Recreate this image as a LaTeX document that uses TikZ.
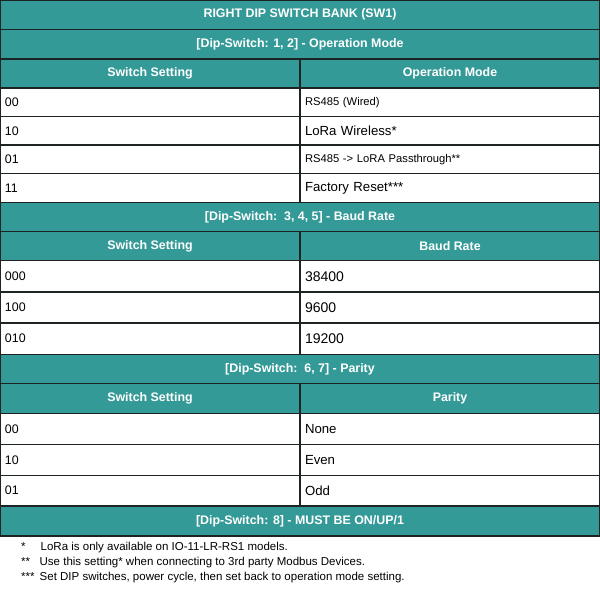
\documentclass[tikz,border=0pt]{standalone}
\usepackage{fontspec}
\setmainfont{Liberation Sans}
\usetikzlibrary{positioning}
\definecolor{bandteal}{RGB}{52,154,152}
\definecolor{gridline}{RGB}{30,36,36}
\def\BandColor{bandteal}
\def\GridColor{gridline}
\newcommand\HeadFont{\bfseries\fontsize{12.4}{14}\selectfont}
\newcommand\SmallFont{\fontsize{11.2}{13}\selectfont}
\newcommand\DigitFont{\fontsize{12.4}{14}\selectfont}
\newcommand\BigFont{\fontsize{13.2}{15}\selectfont}
\newcommand\BigDigitFont{\fontsize{14}{16}\selectfont}

\begin{document}
\begin{tikzpicture}[
    x=1pt, y=1pt,
    node distance = 0pt,
     band/.style = {draw=\GridColor, fill=\BandColor, text=white, font=\HeadFont,
                    line width=1.3pt, inner sep=0pt, outer sep=0pt,
                    minimum width=600pt, minimum height=#1},
     band/.default = 29.4pt,
     head/.style = {band=#1, minimum width=300pt},
     head/.default = 29pt,
     cell/.style = {draw=\GridColor, fill=white, font=\DigitFont,
                    line width=1.3pt, inner xsep=5pt, inner ysep=0pt, outer sep=0pt,
                    minimum width=300pt, text width=290pt, align=left, minimum height=#1},
     cell/.default = 28.6pt,
     note/.style = {anchor=west, inner sep=0pt, font=\fontsize{11.5}{13}\selectfont}
                        ]
\useasboundingbox (0,0) rectangle (600,-589);
% operation mode
\node[band] at (300,-14.75) (title) {RIGHT DIP SWITCH BANK (SW1)};
\node[band, below =of title] (dipA) {[Dip-Switch: 1, 2] - Operation Mode};
\node[head, below right =0pt and 0pt of dipA.south west] (hA1) {Switch Setting};
\node[head, right =of hA1] (hA2) {Operation Mode};
\node[cell, below =of hA1] (a11) {00};
\node[cell, right =of a11, font=\SmallFont] (a12) {RS485 (Wired)};
\node[cell, below =of a11] (a21) {10};
\node[cell, right =of a21, font=\BigFont] (a22) {LoRa Wireless*};
\node[cell, below =of a21] (a31) {01};
\node[cell, right =of a31, font=\SmallFont] (a32) {RS485 -> LoRA Passthrough**};
\node[cell, below =of a31] (a41) {11};
\node[cell, right =of a41, font=\BigFont] (a42) {Factory Reset***};
% baud rate
\node[band, below right =0pt and 0pt of a41.south west] (dipB) {[Dip-Switch:\ \ 3, 4, 5] - Baud Rate};
\node[head, below right =0pt and 0pt of dipB.south west] (hB1) {Switch Setting};
\node[head, right =of hB1] (hB2) {Baud Rate};
\node[cell=31.2pt, below =of hB1] (b11) {000};
\node[cell=31.2pt, right =of b11, font=\BigDigitFont] (b12) {38400};
\node[cell=31.2pt, below =of b11] (b21) {100};
\node[cell=31.2pt, right =of b21, font=\BigDigitFont] (b22) {9600};
\node[cell=31.2pt, below =of b21] (b31) {010};
\node[cell=31.2pt, right =of b31, font=\BigDigitFont] (b32) {19200};
% parity
\node[band, below right =0pt and 0pt of b31.south west] (dipC) {[Dip-Switch:\ \ 6, 7] - Parity};
\node[head=30pt, below right =0pt and 0pt of dipC.south west] (hC1) {Switch Setting};
\node[head=30pt, right =of hC1] (hC2) {Parity};
\node[cell=30.8pt, below =of hC1] (c11) {00};
\node[cell=30.8pt, right =of c11, font=\BigFont] (c12) {None};
\node[cell=30.8pt, below =of c11] (c21) {10};
\node[cell=30.8pt, right =of c21, font=\BigFont] (c22) {Even};
\node[cell=30.8pt, below =of c21] (c31) {01};
\node[cell=30.8pt, right =of c31, font=\BigFont] (c32) {Odd};
% switch 8
\node[band=30pt, below right =0pt and 0pt of c31.south west] (dipD) {[Dip-Switch: 8] - MUST BE ON/UP/1};
% notes
\node[note] at (21,-548) (n1) {\makebox[19.5pt][l]{*}LoRa is only available on IO-11-LR-RS1 models.};
\node[note] at (21,-563) (n2) {\makebox[18.5pt][l]{**}Use this setting* when connecting to 3rd party Modbus Devices.};
\node[note] at (21,-578) (n3) {\makebox[18.5pt][l]{***}Set DIP switches, power cycle, then set back to operation mode setting.};
    \end{tikzpicture}
\end{document}
